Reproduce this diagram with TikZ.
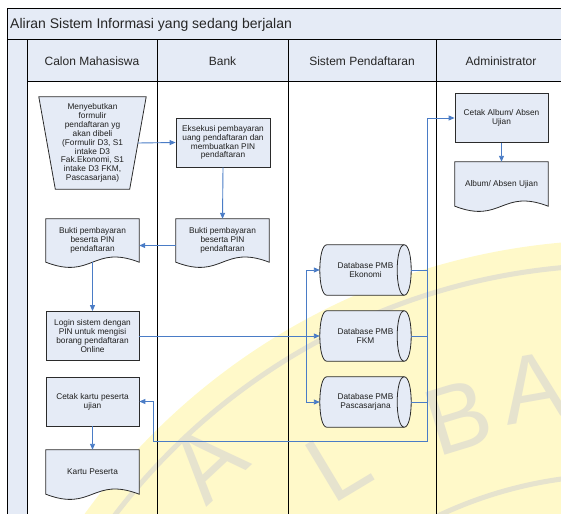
\documentclass[tikz,border=0pt]{standalone}
\usepackage{fontspec}
\setmainfont{Liberation Sans}
\usetikzlibrary{arrows.meta,calc}

\pgfdeclarelayer{wm}
\pgfdeclarelayer{shapes}
\pgfsetlayers{wm,shapes,main}

\definecolor{panel}{HTML}{E5EBF6}
\definecolor{flowblue}{HTML}{4A7CC6}
\definecolor{edge}{HTML}{2B2B2B}
\definecolor{wmyellow}{HTML}{FFF9C9}
\definecolor{wmgray}{HTML}{E6E3CE}

\tikzset{
  every node/.style={font=\fontsize{8.3}{8.9}\selectfont, align=center, inner sep=1pt, text=black!88},
  procbox/.style={draw=edge, fill=panel, line width=0.8pt, minimum width=93pt, minimum height=49pt},
  slot/.style={minimum width=93pt, minimum height=43pt, inner sep=0pt},
  shapeline/.style={draw=edge, fill=panel, line width=0.8pt},
  laneline/.style={draw=black, line width=1pt},
  flow/.style={draw=flowblue, line width=0.9pt, -{Triangle[length=6pt,width=5pt]}},
  feed/.style={draw=flowblue, line width=0.9pt},
  headtext/.style={font=\fontsize{12}{14}\selectfont, text=black!85},
  wmletter/.style={font=\fontsize{95}{95}\selectfont, text=wmgray, inner sep=0pt},
}

% document symbol: flat top, wavy bottom
\newcommand\docshape[1]{%
  \begin{pgfonlayer}{shapes}
    \path[shapeline] (#1.north west) -- (#1.south west)
      .. controls ($(#1.south)+(0,18)$) and ($(#1.south)+(0,-18)$) .. (#1.south east)
      -- (#1.north east) -- cycle;
  \end{pgfonlayer}}

% stored data drum lying on its side
\newcommand\drumshape[1]{%
  \begin{pgfonlayer}{shapes}
    \path[shapeline] (#1.north east) -- (#1.north west)
      .. controls +(-9.33,0) and +(-9.33,0) .. (#1.south west)
      -- (#1.south east)
      .. controls +(9.33,0) and +(9.33,0) .. (#1.north east) -- cycle;
    \draw[edge, line width=0.8pt] (#1.north east)
      .. controls +(-9.33,0) and +(-9.33,0) .. (#1.south east);
  \end{pgfonlayer}}

% manual operation: wide top, narrow bottom
\newcommand\manualshape[1]{%
  \begin{pgfonlayer}{shapes}
    \path[shapeline] (#1.north west) -- (#1.north east)
      -- ([xshift=-16.5pt]#1.south east) -- ([xshift=16.5pt]#1.south west) -- cycle;
  \end{pgfonlayer}}

\begin{document}
\begin{tikzpicture}[x=1pt, y=-1pt]
\useasboundingbox (0,0) rectangle (561,513);

\begin{pgfonlayer}{wm}
  % faint seal printed behind the lanes
  \begin{scope}
    \clip (27,82) rectangle (570,520);
    \fill[wmyellow] (620,900) circle[radius=660];
    \draw[wmgray, line width=5pt] (620,900) circle[radius=635];
    \draw[wmgray, line width=5pt] (620,900) circle[radius=425];
    \node[wmletter, rotate=43] (sealA) at (207,462) {A};
    \node[wmletter, rotate=31] (sealL) at (338,464) {L};
    \node[wmletter, rotate=17] (sealB) at (458,417) {B};
    \node[wmletter, rotate=10] (sealC) at (533,388) {A};
  \end{scope}

  % pool, title bar and lane headers
  \fill[panel] (7,9) rectangle (570,40);
  \fill[panel] (7,40) rectangle (27,520);
  \fill[panel] (27,40) rectangle (570,82);
  \draw[laneline] (7,9) rectangle (570,520);
  \draw[laneline] (7,40) -- (570,40);
  \draw[laneline] (27,40) -- (27,520);
  \draw[laneline] (27,82) -- (570,82);
  \draw[laneline] (157,40) -- (157,520);
  \draw[laneline] (288,40) -- (288,520);
  \draw[laneline] (436,40) -- (436,520);
\end{pgfonlayer}

\node[anchor=west, font=\fontsize{14}{16}\selectfont, text=black!85] (title) at (9,24.5)
  {Aliran Sistem Informasi yang sedang berjalan};
\node[headtext] (hcm) at (92,61) {Calon Mahasiswa};
\node[headtext] (hbk) at (222.5,61) {Bank};
\node[headtext] (hsp) at (362,61) {Sistem Pendaftaran};
\node[headtext] (had) at (501,61) {Administrator};

% Calon Mahasiswa
\node[slot, minimum width=107pt, minimum height=92pt] (order) at (92.5,143)
  {Menyebutkan\\formulir\\pendaftaran yg\\akan dibeli\\(Formulir D3, S1\\intake D3\\Fak.Ekonomi, S1\\intake D3 FKM,\\Pascasarjana)};
\manualshape{order}
\node[slot] (proofcm) at (92.5,240.5) {Bukti pembayaran\\beserta PIN\\pendaftaran};
\docshape{proofcm}
\node[procbox] (login) at (92.5,336) {Login sistem dengan\\PIN untuk mengisi\\borang pendaftaran\\Online};
\node[procbox] (printcard) at (92.5,401.5) {Cetak kartu peserta\\ujian};
\node[slot, minimum height=44pt] (card) at (92.5,472) {Kartu Peserta};
\docshape{card}

% Bank
\node[procbox, minimum width=94pt] (pay) at (223,142.5)
  {Eksekusi pembayaran\\uang pendaftaran dan\\membuatkan PIN\\pendaftaran};
\node[slot] (proofbk) at (222.5,240.5) {Bukti pembayaran\\beserta PIN\\pendaftaran};
\docshape{proofbk}

% Sistem Pendaftaran
\node[slot, minimum width=77pt, minimum height=50pt] (dbeko) at (365.5,270) {Database PMB\\Ekonomi};
\drumshape{dbeko}
\node[slot, minimum width=77pt, minimum height=50pt] (dbfkm) at (365.5,336) {Database PMB\\FKM};
\drumshape{dbfkm}
\node[slot, minimum width=77pt, minimum height=50pt] (dbpas) at (365.5,402) {Database PMB\\Pascasarjana};
\drumshape{dbpas}

% Administrator
\node[procbox] (printalb) at (501.5,118) {Cetak Album/ Absen\\Ujian};
\node[slot, minimum height=44pt] (album) at (501.5,184) {Album/ Absen Ujian};
\docshape{album}

% routing points
\coordinate (bus) at (427,0);
\coordinate (back) at (153,441);
\coordinate (split) at (306,336);

% connectors
\draw[flow] ([xshift=-8.25pt]order.east) -- (pay.west);
\draw[flow] (pay.south) -- (proofbk.north);
\draw[flow] ([yshift=-5pt]proofbk.west) -- ([yshift=-5pt]proofcm.east);
\draw[flow] (proofcm.south) -- (login.north);
\draw[flow] (login.east) -- ([xshift=-7pt]dbfkm.west);
\draw[flow] (split) |- ([xshift=-7pt]dbeko.west);
\draw[flow] (split) |- ([xshift=-7pt]dbpas.west);
\draw[feed] ([xshift=7pt]dbeko.east) -- (dbeko.east -| bus);
\draw[feed] ([xshift=7pt]dbfkm.east) -- (dbfkm.east -| bus);
\draw[feed] ([xshift=7pt]dbpas.east) -- (dbpas.east -| bus);
\draw[flow] (dbeko.east -| bus) |- (printalb.west);
\draw[flow] (dbeko.east -| bus) |- (back) |- (printcard.east);
\draw[flow] (printcard.south) -- (card.north);
\draw[flow] (printalb.south) -- (album.north);
\end{tikzpicture}
\end{document}
